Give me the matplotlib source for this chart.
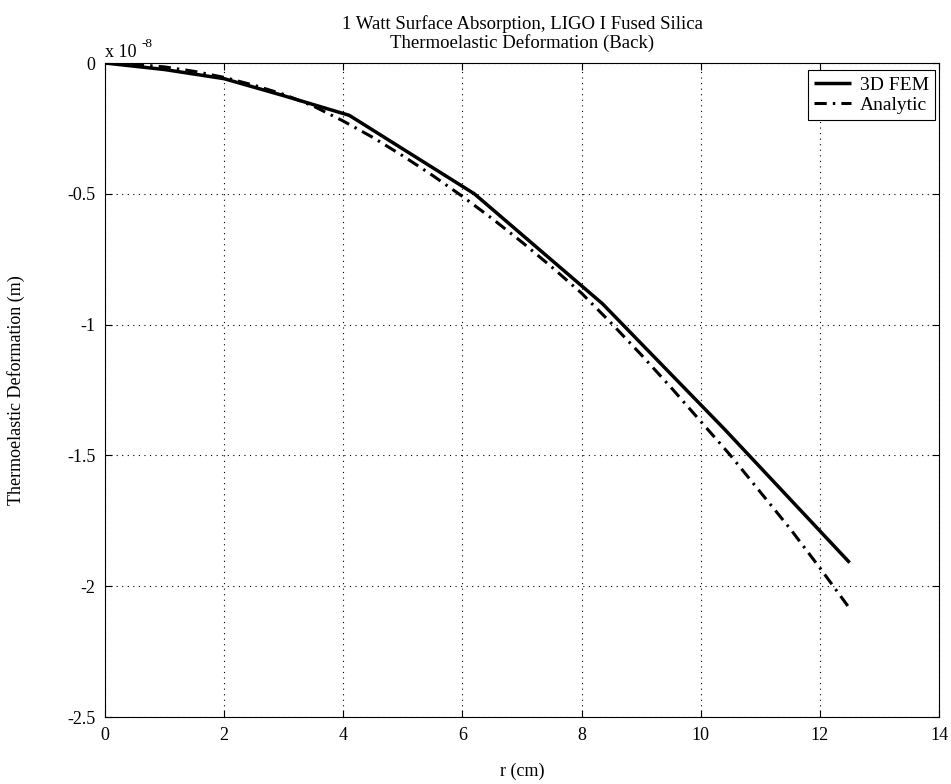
import matplotlib
matplotlib.use("Agg")
import matplotlib.pyplot as plt
import matplotlib.transforms as mtransforms

# ---- data (y in units of 1e-8 m) ----
r_fem = [0.0, 1.0, 2.0, 3.0, 4.1, 6.2, 8.35, 10.4, 12.5]
def_fem = [0.0, -0.025, -0.06, -0.125, -0.20, -0.50, -0.92, -1.40, -1.91]

r_an = [0.0, 0.5, 1.0, 1.5, 2.0, 2.5, 3.0, 3.5, 4.0, 4.5, 5.0, 5.5, 6.0, 6.5,
        7.0, 7.5, 8.0, 8.5, 9.0, 9.5, 10.0, 10.5, 11.0, 11.5, 12.0, 12.5]
def_an = [0.0, -0.005, -0.015, -0.032, -0.055, -0.085, -0.12, -0.165, -0.222,
          -0.285, -0.355, -0.43, -0.51, -0.595, -0.685, -0.78, -0.88, -0.995,
          -1.115, -1.24, -1.37, -1.50, -1.64, -1.78, -1.93, -2.085]

x_ticks = [0, 2, 4, 6, 8, 10, 12, 14]
y_ticks = [0, -0.5, -1, -1.5, -2, -2.5]
y_tick_labels = ["0", "-0.5", "-1", "-1.5", "-2", "-2.5"]

title_text = "1 Watt Surface Absorption, LIGO I Fused Silica\nThermoelastic Deformation (Back)"

plt.rcParams['font.family'] = ['Liberation Serif', 'DejaVu Serif']
plt.rcParams['axes.unicode_minus'] = False

fig = plt.figure(figsize=(9.51, 7.84), dpi=100)
ax = fig.add_axes([105/951, 1-717/784, (939-105)/951, (717-63)/784])

ax.plot(r_fem, def_fem, color='black', lw=2.5, ls='-', label='3D FEM',
        solid_capstyle='butt')
ax.plot(r_an, def_an, color='black', lw=2.2, ls=(0, (4, 2.0, 0.8, 2.0)),
        label='Analytic', dash_capstyle='butt')

ax.set_xlim(0, 14)
ax.set_ylim(-2.5, 0)
ax.set_xticks(x_ticks)
ax.set_yticks(y_ticks)
ax.set_yticklabels(y_tick_labels)
ax.tick_params(direction='in', top=True, right=True, length=5, width=0.8,
               labelsize=13, pad=7)
ax.grid(True, color='black', ls=(0, (1, 4)), lw=0.8)
for s in ax.spines.values():
    s.set_linewidth(0.8)

ax.set_xlabel('r (cm)', fontsize=13, labelpad=14)
ax.set_ylabel('Thermoelastic Deformation (m)', fontsize=13, labelpad=30)
ax.set_title(title_text, fontsize=13.5, pad=11, linespacing=1.07)

# "x 10^-8" exponent label (MATLAB style)
base = mtransforms.offset_copy(ax.transAxes, fig=fig, x=0, y=6, units='dots')
t1 = ax.text(0.0, 1.0, 'x 10', transform=base, fontsize=13,
             ha='left', va='baseline')
sup = mtransforms.offset_copy(ax.transAxes, fig=fig, x=36, y=16, units='dots')
ax.text(0.0, 1.0, '-8', transform=sup, fontsize=9.5, ha='left', va='baseline')

leg = ax.legend(loc='upper right', bbox_to_anchor=(0.9955, 0.989), fontsize=14,
                frameon=True, fancybox=False, edgecolor='black', framealpha=1,
                borderpad=0.3, handlelength=1.9, handletextpad=0.5,
                labelspacing=0.15, borderaxespad=0.0)
leg.get_frame().set_linewidth(0.8)

fig.savefig('out.png', dpi=100)
